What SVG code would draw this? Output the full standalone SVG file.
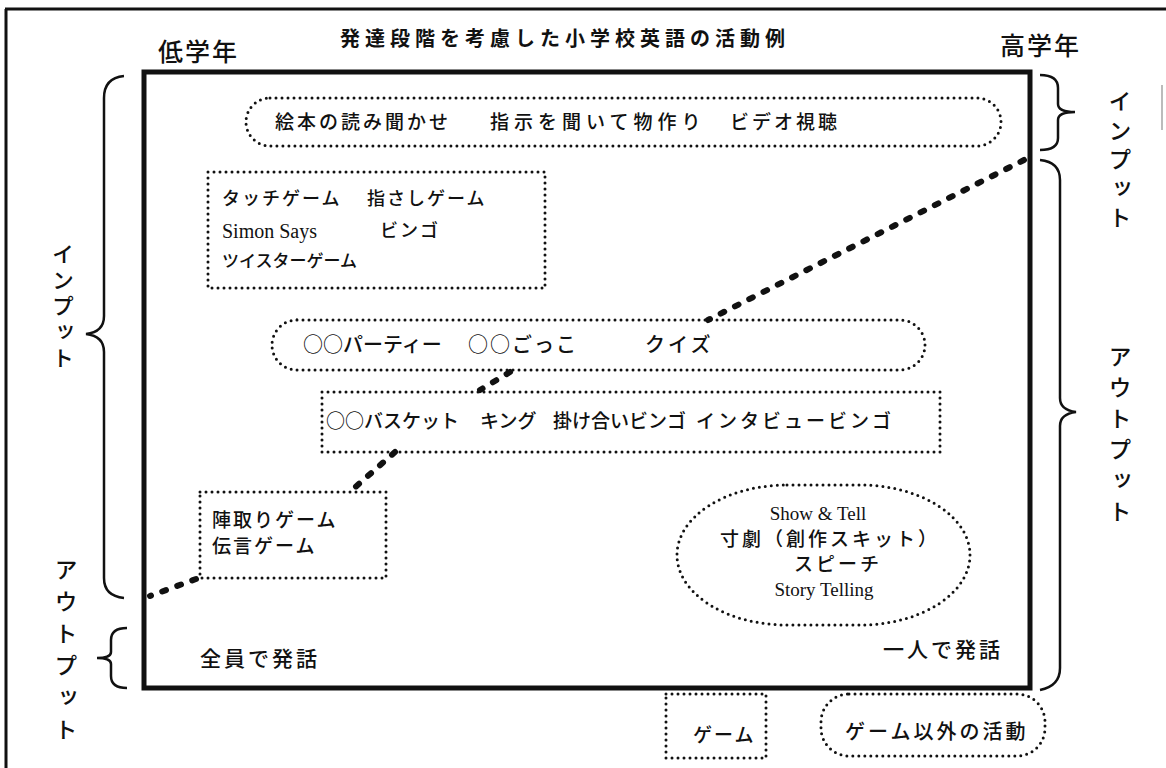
<svg xmlns="http://www.w3.org/2000/svg" width="1166" height="768" viewBox="0 0 1166 768">
<style>
.jp{font-family:"Noto Sans CJK JP","Noto Sans",sans-serif;fill:#111;font-weight:500}
.en{font-family:"Liberation Serif",serif;fill:#111}
.vt{font-family:"Noto Sans CJK JP","Noto Sans",sans-serif;fill:#111;font-weight:500;writing-mode:vertical-rl}
.dot{fill:none;stroke:#111;stroke-width:3;stroke-dasharray:0 6;stroke-linecap:round}
.br{fill:none;stroke:#111;stroke-width:2.5}
.conn{fill:none;stroke:#111;stroke-width:6;stroke-dasharray:4 12;stroke-linecap:round}
</style>
<rect width="1166" height="768" fill="#fff"/>
<g id="frame">
<line x1="5" y1="9" x2="1166" y2="9" stroke="#111" stroke-width="3"/>
<line x1="6" y1="9" x2="6" y2="768" stroke="#111" stroke-width="3"/>
<line x1="1162" y1="85" x2="1162" y2="130" stroke="#bbb" stroke-width="2"/>
</g>
<g id="title"><text class="jp" x="565" y="46" font-size="20" letter-spacing="5" text-anchor="middle" style="font-weight:700">発達段階を考慮した小学校英語の活動例</text></g>
<g id="low"><text class="jp" x="158" y="61" font-size="25" letter-spacing="2">低学年</text></g>
<g id="high"><text class="jp" x="1000" y="55" font-size="25" letter-spacing="2">高学年</text></g>
<g id="mainbox"><rect x="144" y="72" width="886" height="616" fill="none" stroke="#111" stroke-width="5"/></g>

<g id="connectors">
<path class="conn" d="M1024,160 L708,320"/>
<path class="conn" d="M510,372 L480,390"/>
<path class="conn" d="M395,452 L352,490"/>
<path class="conn" d="M196,579 L150,596"/>
</g>

<g id="input1">
<rect class="dot" x="246" y="98" width="755" height="48" rx="24"/>
<text class="jp" x="275" y="129" font-size="19" letter-spacing="3">絵本の読み聞かせ</text>
<text class="jp" x="490" y="129" font-size="19" letter-spacing="5">指示を聞いて物作り</text>
<text class="jp" x="730" y="129" font-size="19" letter-spacing="3">ビデオ視聴</text>
</g>
<g id="games1">
<rect class="dot" x="208" y="172" width="337" height="116"/>
<text class="jp" x="222" y="205" font-size="18" letter-spacing="2">タッチゲーム</text>
<text class="jp" x="367" y="205" font-size="18" letter-spacing="2">指さしゲーム</text>
<text class="en" x="222" y="238" font-size="20">Simon Says</text>
<text class="jp" x="380" y="237" font-size="18" letter-spacing="2">ビンゴ</text>
<text class="jp" x="222" y="267" font-size="17">ツイスターゲーム</text>
</g>
<g id="pill2">
<rect class="dot" x="272" y="320" width="653" height="50" rx="25"/>
<text class="jp" x="303" y="352" font-size="20">○○パーティー</text>
<text class="jp" x="468" y="352" font-size="20" letter-spacing="2">○○ごっこ</text>
<text class="jp" x="645" y="352" font-size="20" letter-spacing="3">クイズ</text>
</g>
<g id="games2">
<rect class="dot" x="322" y="392" width="618" height="60"/>
<text class="jp" x="326" y="428" font-size="19">○○バスケット</text>
<text class="jp" x="480" y="428" font-size="19">キング</text>
<text class="jp" x="553" y="428" font-size="19">掛け合いビンゴ</text>
<text class="jp" x="696" y="428" font-size="19" letter-spacing="3">インタビュービンゴ</text>
</g>
<g id="games3">
<rect class="dot" x="200" y="492" width="186" height="86"/>
<text class="jp" x="212" y="527" font-size="19" letter-spacing="2">陣取りゲーム</text>
<text class="jp" x="212" y="553" font-size="19" letter-spacing="2">伝言ゲーム</text>
</g>
<g id="solo">
<rect class="dot" x="677" y="485" width="293" height="140" rx="110" ry="70"/>
<text class="en" x="818" y="520" font-size="19" text-anchor="middle">Show &amp; Tell</text>
<text class="jp" x="830" y="546" font-size="19" letter-spacing="3" text-anchor="middle">寸劇（創作スキット）</text>
<text class="jp" x="838" y="571" font-size="19" letter-spacing="3" text-anchor="middle">スピーチ</text>
<text class="en" x="824" y="596" font-size="19" text-anchor="middle">Story Telling</text>
</g>
<g id="all"><text class="jp" x="200" y="666" font-size="21" letter-spacing="3">全員で発話</text></g>
<g id="one"><text class="jp" x="1003" y="657" font-size="21" letter-spacing="3" text-anchor="end">一人で発話</text></g>
<g id="legend-game">
<rect class="dot" x="666" y="694" width="100" height="64"/>
<text class="jp" x="693" y="742" font-size="19" letter-spacing="2">ゲーム</text>
</g>
<g id="legend-other">
<rect class="dot" x="821" y="694" width="224" height="62" rx="28"/>
<text class="jp" x="845" y="739" font-size="20" letter-spacing="3">ゲーム以外の活動</text>
</g>

<g id="braces">
<path class="br" d="M124,76 Q104,78 104,98 L104,316 Q104,332 86,334 Q104,336 104,352 L104,578 Q104,596 124,598"/>
<path class="br" d="M127,628 Q111,628 111,640 L111,652 Q111,658 97,658 Q111,658 111,664 L111,676 Q111,688 127,688"/>
<path class="br" d="M1040,75 Q1058,75 1058,88 L1058,104 Q1058,112 1075,112 Q1058,112 1058,120 L1058,138 Q1058,150 1040,150"/>
<path class="br" d="M1040,160 Q1060,162 1060,180 L1060,398 Q1060,410 1076,412 Q1060,414 1060,426 L1060,668 Q1060,686 1040,690"/>
</g>
<g id="labels">
<text class="vt" x="63" y="243" font-size="22" letter-spacing="4">インプット</text>
<text class="vt" x="66" y="558" font-size="23" letter-spacing="9">アウトプット</text>
<text class="vt" x="1120" y="90" font-size="23" letter-spacing="6">インプット</text>
<text class="vt" x="1120" y="345" font-size="23" letter-spacing="8">アウトプット</text>
</g>
</svg>
